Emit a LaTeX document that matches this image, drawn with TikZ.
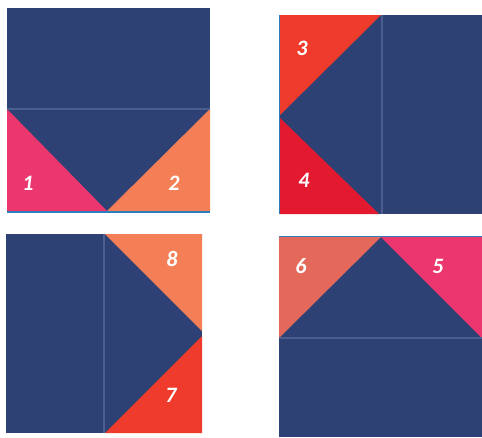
\documentclass[tikz,border=0pt]{standalone}
\usepackage{fontspec}
\setsansfont{Carlito}
\definecolor{navy}{HTML}{2E4174}
\definecolor{seamblue}{HTML}{4C5D90}
\definecolor{edgeblue}{HTML}{2C7DBE}
\definecolor{pinkred}{HTML}{EC366E}
\definecolor{coral}{HTML}{F47F57}
\definecolor{vermil}{HTML}{EE3B2B}
\definecolor{crimson}{HTML}{E31A2F}
\definecolor{salmon}{HTML}{E4695B}
\tikzset{
  seam/.style={draw=seamblue, line width=1.5pt},
  rim/.style={draw=edgeblue, line width=1.5pt},
  num/.style={text=white, inner sep=0pt, font=\sffamily\bfseries\itshape\fontsize{22}{26}\selectfont}
}

\begin{document}
\begin{tikzpicture}[x=1pt, y=-1pt]
    \useasboundingbox (0,0) rectangle (482,437);

    % Top left square, pieces 1 and 2
    \fill[navy] (7,8) rectangle (210,212);
    \fill[pinkred] (7,109) -- (107,211) -- (7,211) -- cycle;
    \fill[coral] (210,109) -- (210,211) -- (107,211) -- cycle;
    \draw[seam] (7,109) -- (210,109);
    \draw[rim] (7,212) -- (210,212);
    \node[num] (one) at (28,183) {1};
    \node[num] (two) at (174,183) {2};

    % Top right square, pieces 3 and 4
    \fill[navy] (279,15) rectangle (482,214);
    \fill[vermil] (279,15) -- (381,15) -- (279,116) -- cycle;
    \fill[crimson] (279,117) -- (379,214) -- (279,214) -- cycle;
    \draw[seam] (382,15) -- (382,214);
    \draw[rim] (279.5,15) -- (279.5,214);
    \node[num] (three) at (302,48) {3};
    \node[num] (four) at (304,180) {4};

    % Bottom left square, pieces 8 and 7
    \fill[navy] (6,234) rectangle (202,433);
    \fill[coral] (105,234) -- (202,234) -- (202,331) -- cycle;
    \fill[vermil] (202,336) -- (202,433) -- (105,433) -- cycle;
    \draw[seam] (104,234) -- (104,433);
    \node[num] (eight) at (172,259) {8};
    \node[num] (seven) at (171,395) {7};

    % Bottom right square, pieces 6 and 5
    \fill[navy] (279,237) rectangle (482,437);
    \fill[salmon] (279,237) -- (381,237) -- (279,338) -- cycle;
    \fill[pinkred] (381,237) -- (482,237) -- (482,338) -- cycle;
    \draw[seam] (279,338) -- (482,338);
    \draw[rim] (279,236.5) -- (482,236.5);
    \node[num] (six) at (301,266) {6};
    \node[num] (five) at (438,266) {5};
\end{tikzpicture}
\end{document}
